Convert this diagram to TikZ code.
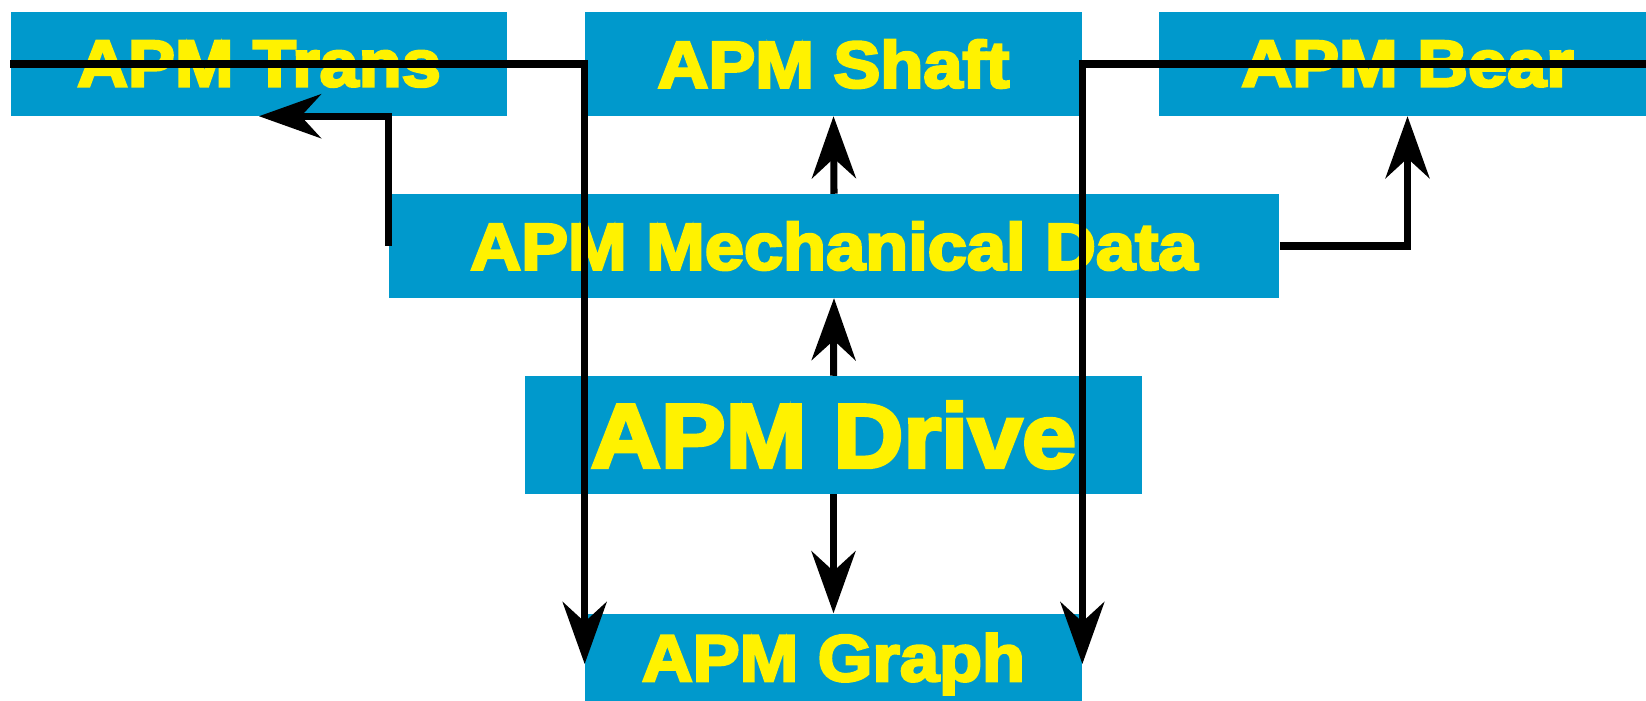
\documentclass[tikz,border=0pt]{standalone}
\usepackage{fontspec}
\setmainfont{Liberation Sans}[BoldFeatures={FakeBold=4,FakeStretch=1.07}]
\usetikzlibrary{arrows.meta}
\definecolor{apmblue}{RGB}{0,153,204}

\begin{document}
\begin{tikzpicture}[
  x=0.01cm, y=-0.01cm,
  mod/.style={fill=apmblue,text=yellow,inner sep=0pt,
    minimum width=4.96cm,minimum height=1.03cm,
    font=\fontsize{18.7}{20}\selectfont\bfseries},
  link/.style={draw=black,line width=2pt,
    -{Stealth[length=6.2mm,width=4.4mm,inset=2mm]}}]
\useasboundingbox (0,0) rectangle (1646,701);
% modules
\node[mod] (trans) at (259,64) {APM Trans};
\node[mod] (shaft) at (833.5,64) {APM Shaft};
\node[mod] (bear) at (1407.5,64) {APM Bear};
\node[mod,minimum width=8.9cm] (mech) at (834,246) {APM Mechanical Data};
\node[mod,minimum width=6.17cm,minimum height=1.17cm,
  font=\fontsize{25.8}{28}\selectfont\bfseries] (drive) at (833.5,435) {APM Drive};
\node[mod,minimum height=1cm] (graph) at (833.5,664) {APM Graph};
% connectors
\draw[link] (drive.south) -- (graph.north);
\draw[link] (drive.north) -- (mech.south);
\draw[link] (mech.north) -- (shaft.south);
\draw[link] (mech.west) |- (trans.south);
\draw[link] (mech.east) -| (bear.south);
\draw[link] (trans.west) -| (graph.west);
\draw[link] (bear.east) -| (graph.east);
\end{tikzpicture}
\end{document}
